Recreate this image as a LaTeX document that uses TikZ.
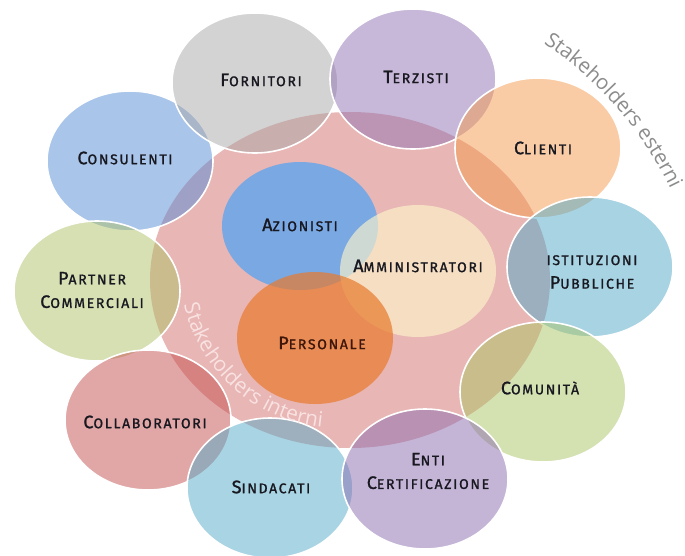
\documentclass[tikz,border=0pt]{standalone}
\usepackage{fontspec}
\setmainfont{Fira Sans}
\newfontfamily\lblfont[LetterSpace=12,FakeBold=1.3]{Fira Sans}
\newfontfamily\stkfont{Open Sans}
\usetikzlibrary{shapes.geometric,decorations.text,calc}
\definecolor{cPink}{RGB}{232,182,180}
\definecolor{cForn}{RGB}{169,169,169}
\definecolor{cTerz}{RGB}{145,115,181}
\definecolor{cClie}{RGB}{245,155,78}
\definecolor{cIsti}{RGB}{81,169,201}
\definecolor{cComu}{RGB}{171,197,101}
\definecolor{cEnti}{RGB}{139,109,177}
\definecolor{cSind}{RGB}{85,171,201}
\definecolor{cColl}{RGB}{197,80,80}
\definecolor{cPart}{RGB}{175,195,105}
\definecolor{cCons}{RGB}{85,141,215}
\definecolor{cAzio}{RGB}{95,165,238}
\definecolor{cAmmi}{RGB}{252,244,203}
\definecolor{cPers}{RGB}{232,122,44}
\definecolor{cTxt}{RGB}{24,24,32}
\definecolor{cPersTxt}{RGB}{60,22,10}
\definecolor{cInt}{RGB}{248,226,226}
\definecolor{cExt}{RGB}{140,140,140}
\newcommand\SmC[2]{{\fontsize{18}{20}\selectfont #1}{\fontsize{14}{20}\selectfont #2}}
\tikzset{
  outer/.style={ellipse, minimum width=166pt, minimum height=140pt, inner sep=0pt,
    draw=white, line width=1.6pt, fill opacity=0.5, draw opacity=1},
  innerc/.style={ellipse, minimum width=156pt, minimum height=130pt, inner sep=0pt},
  lbl/.style={font=\lblfont, text=cTxt, align=center, inner sep=0pt}
}
\begin{document}
\begin{tikzpicture}[x=1pt,y=1pt]
\useasboundingbox (0,0) rectangle (685,-555);
\fill[white] (0,0) rectangle (685,-555);
% big pink circle
\node[ellipse, minimum width=400pt, minimum height=336pt, inner sep=0pt, fill=cPink] (pink) at (350,-280) {};
% inner circles
\node[innerc, fill=cAzio, fill opacity=0.8, minimum height=128pt] (azio) at (300,-226) {};
\node[innerc, fill=cAmmi, fill opacity=0.65, minimum height=132pt] (ammi) at (418,-271) {};
\node[innerc, fill=cPers, fill opacity=0.7, minimum height=132pt] (pers) at (315,-338) {};
% outer circles
\node[outer, fill=cCons] (cons) at (130,-161) {};
\node[outer, fill=cForn] (forn) at (255,-83) {};
\node[outer, fill=cTerz] (terz) at (413,-79) {};
\node[outer, fill=cClie] (clie) at (538,-148) {};
\node[outer, fill=cIsti] (isti) at (590,-267) {};
\node[outer, fill=cComu] (comu) at (543,-392) {};
\node[outer, fill=cPart] (part) at (97,-291) {};
\node[outer, fill=cColl] (coll) at (148,-420) {};
\node[outer, fill=cSind] (sind) at (270,-488) {};
\node[outer, fill=cEnti] (enti) at (425,-479) {};
% curved captions
\path[decorate, decoration={text along path, text align=center,
  text={|\stkfont\fontsize{21}{21}\selectfont\color{cInt}|Stakeholders interni}}]
  ($(338,-270)+(182:158)$) arc[start angle=182, end angle=275, radius=158];
\path[decorate, decoration={text along path, text align=center,
  text={|\stkfont\fontsize{20.5}{21}\selectfont\color{cExt}|Stakeholders esterni}}]
  ($(336,-352)+(62:372)$) arc[start angle=62, end angle=20, radius=372];
% labels
\node[lbl] (tforn) at (261,-80) {\SmC{F}{ORNITORI}};
\node[lbl] (tterz) at (416,-77) {\SmC{T}{ERZISTI}};
\node[lbl] (tclie) at (543,-148) {\SmC{C}{LIENTI}};
\node[lbl] (tisti) at (592,-272) {\SmC{}{ISTITUZIONI}\\[10pt]\SmC{P}{UBBLICHE}};
\node[lbl] (tcomu) at (540,-388) {\SmC{C}{OMUNITÀ}};
\node[lbl] (tenti) at (428,-471) {\SmC{E}{NTI}\\[10pt]\SmC{C}{ERTIFICAZIONE}};
\node[lbl] (tsind) at (271,-487) {\SmC{S}{INDACATI}};
\node[lbl] (tcoll) at (145,-422) {\SmC{C}{OLLABORATORI}};
\node[lbl] (tpart) at (92,-290) {\SmC{P}{ARTNER}\\[10pt]\SmC{C}{OMMERCIALI}};
\node[lbl] (tcons) at (125,-158) {\SmC{C}{ONSULENTI}};
\node[lbl] (tazio) at (300,-225) {\SmC{A}{ZIONISTI}};
\node[lbl] (tammi) at (418,-266) {\SmC{A}{MMINISTRATORI}};
\node[lbl, text=cPersTxt] (tpers) at (322,-343) {\SmC{P}{ERSONALE}};
\end{tikzpicture}
\end{document}
